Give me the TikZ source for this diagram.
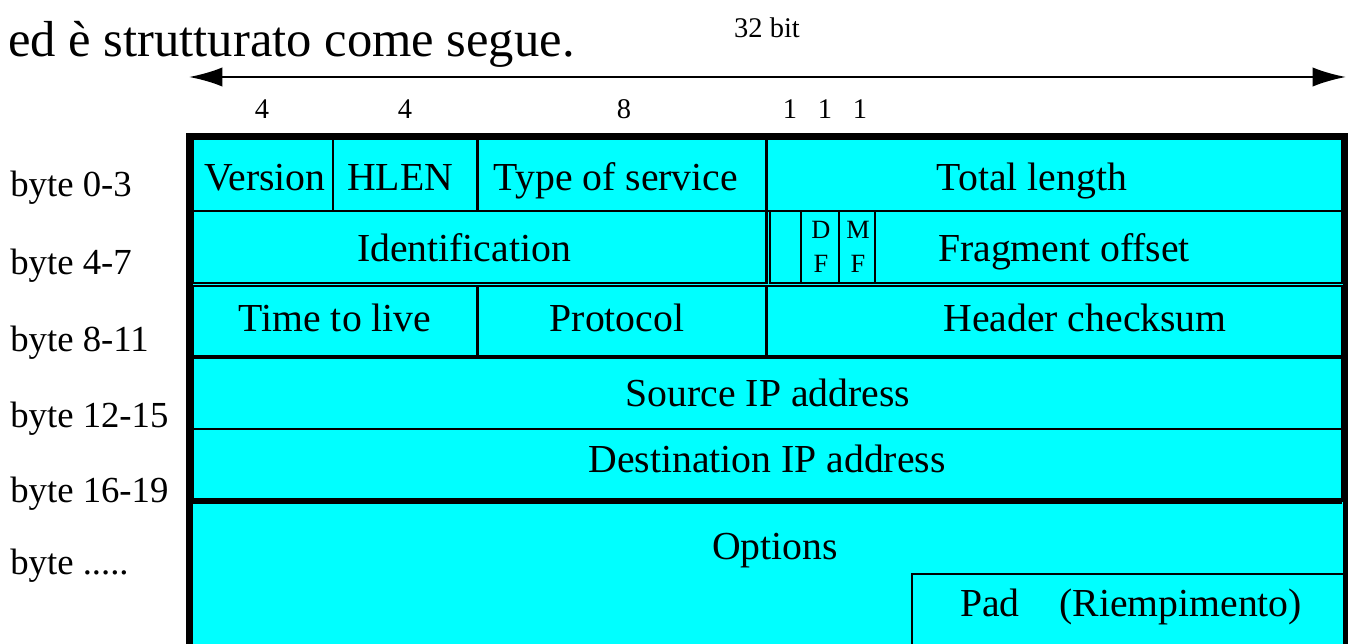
\documentclass[tikz,border=0pt]{standalone}
\usepackage{fontspec}
\setmainfont{Liberation Serif}
\usetikzlibrary{arrows.meta}
\definecolor{ipcyan}{RGB}{0,255,255}

\begin{document}
\begin{tikzpicture}[x=0.02cm,y=-0.02cm,>={Latex[length=19pt,width=11pt]},
		cell/.style={draw=black,line width=1.7pt},
		thin cell/.style={draw=black,line width=1.2pt}]
		\tikzstyle{every node}=[inner sep=0pt,anchor=base,font=\fontsize{22.6}{26}\selectfont]
		\tikzstyle{bytelab}=[anchor=base west,font=\fontsize{20.9}{24}\selectfont]
		\tikzstyle{bits}=[font=\fontsize{16.2}{19}\selectfont]
		\tikzstyle{flag}=[anchor=center,align=center,font=\fontsize{15}{19.5}\selectfont]

		\clip (0,0) rectangle (1348,644);

		% titolo e freccia dei 32 bit
		\node[anchor=base west,font=\fontsize{28.8}{33}\selectfont] (title) at (8,57) {ed è strutturato come segue.};
		\node[bits] (w32) at (767,38) {32 bit};
		\coordinate (lend) at (189,77);
		\coordinate (rend) at (1346,77);
		\draw[<->,line width=1.4pt] (lend) -- (rend);

		\node[bits] (b1) at (262,119) {4};
		\node[bits] (b2) at (405,119) {4};
		\node[bits] (b3) at (624,119) {8};
		\node[bits] (b4) at (790,119) {1};
		\node[bits] (b5) at (825,119) {1};
		\node[bits] (b6) at (860,119) {1};

		% intestazione
		\fill[ipcyan] (189,136) rectangle (1346,720);

		\draw[cell] (193,139) rectangle (333,211);
		\draw[cell] (333,139) rectangle (477,211);
		\draw[cell] (477,139) rectangle (766,211);
		\draw[cell] (766,139) rectangle (1342,211);

		\draw[cell] (193,211) rectangle (766,283);
		\draw[thin cell] (770,211) rectangle (1342,283);
		\draw[thin cell] (801,211) -- (801,283);
		\draw[thin cell] (839,211) -- (839,283);
		\draw[thin cell] (875,211) -- (875,283);

		\draw[cell] (193,286) rectangle (477,356);
		\draw[cell] (477,286) rectangle (766,356);
		\draw[cell] (766,286) rectangle (1342,356);

		\draw[cell] (193,358) rectangle (1342,429);
		\draw[cell] (193,429) rectangle (1342,501);
		\draw[line width=3pt] (193,501) -- (1342,501);

		\draw[thin cell] (912,574) rectangle (1350,700);
		\draw[line width=4pt] (189.5,136.5) rectangle (1346,720);

		\node (ver) at (265,191) {Version};
		\node (hlen) at (400,191) {HLEN};
		\node (tos) at (616,191) {Type of service};
		\node (tlen) at (1032,191) {Total length};

		\node (ident) at (464,262) {Identification};
		\node[flag] (df) at (821,247) {D\\F};
		\node[flag] (mf) at (858,247) {M\\F};
		\node (frag) at (1064,262) {Fragment offset};

		\node (ttl) at (335,332) {Time to live};
		\node (proto) at (617,332) {Protocol};
		\node (chk) at (1085,332) {Header checksum};

		\node (src) at (768,407) {Source IP address};
		\node (dst) at (767,473) {Destination IP address};
		\node (opt) at (775,560) {Options};
		\node (pad) at (1131,616) {Pad\hspace{1em}(Riempimento)};

		% righe a sinistra
		\node[bytelab] (r0) at (10,197) {byte 0-3};
		\node[bytelab] (r1) at (10,275) {byte 4-7};
		\node[bytelab] (r2) at (10,352) {byte 8-11};
		\node[bytelab] (r3) at (10,428) {byte 12-15};
		\node[bytelab] (r4) at (10,503) {byte 16-19};
		\node[bytelab] (r5) at (10,575) {byte .....};
\end{tikzpicture}
\end{document}
